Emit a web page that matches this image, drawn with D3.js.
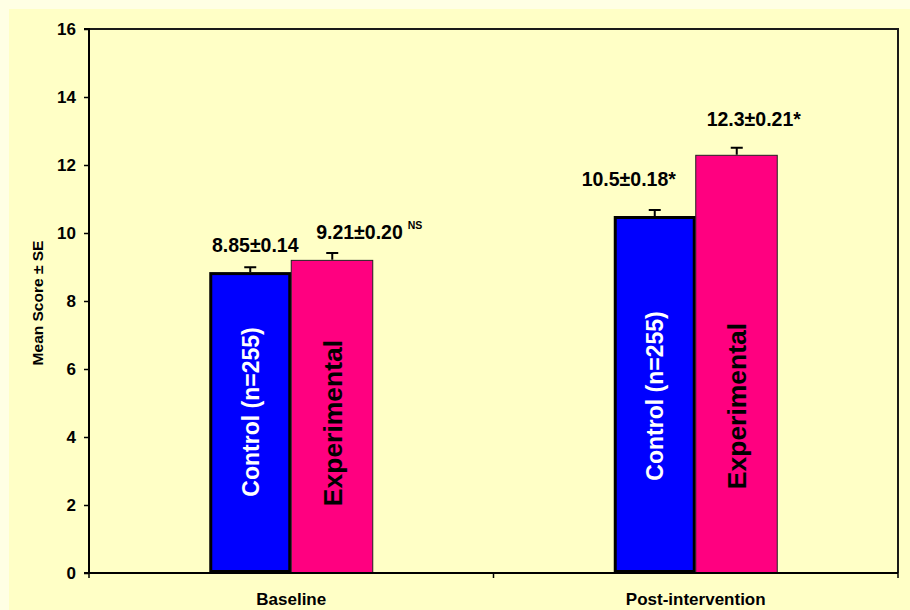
<!DOCTYPE html>
<html>
<head>
<meta charset="utf-8">
<script src="https://cdn.jsdelivr.net/npm/d3@7"></script>
<style>
  html, body { margin: 0; padding: 0; background: #FFFFE4; }
  svg { display: block; }
  text { font-family: "Liberation Sans", Arial, sans-serif; font-weight: bold; }
</style>
</head>
<body>
<svg id="chart" width="910" height="610"></svg>
<script>
// Mean knowledge scores (± SE) for the two study groups at two time points
const categories = ["Baseline", "Post-intervention"];
const groups = ["Control (n=255)", "Experimental"];
const controlMeans = [8.85, 10.5];
const controlSE = [0.14, 0.18];
const experimentalMeans = [9.21, 12.3];
const experimentalSE = [0.20, 0.21];
const valueLabels = [
  ["8.85\u00B10.14", "9.21\u00B10.20"],
  ["10.5\u00B10.18*", "12.3\u00B10.21*"]
];
const significance = [["", "NS"], ["", ""]];
const yTicks = [0, 2, 4, 6, 8, 10, 12, 14, 16];

// Layout (pixels)
const W = 910, H = 610;
const plot = { left: 89, top: 29, right: 898, bottom: 573 };
// horizontal shift and lift of each value label, per category and group
const labelShift = [[5, 37], [-26, 17]];
const labelLift = [[15, 14], [24, 22]];
// distance of the in-bar caption centre above the baseline
const captionMid = [[161, 150], [177, 167]];

const svg = d3.select("#chart");

// chart area
svg.append("rect").attr("x", 0).attr("y", 0).attr("width", W).attr("height", H).attr("fill", "#FFFFE4");
svg.append("rect").attr("x", 9).attr("y", 9).attr("width", W - 9).attr("height", H - 9).attr("fill", "#FFFFC6");

const y = d3.scaleLinear().domain([0, 16]).range([plot.bottom, plot.top]);
const x0 = d3.scaleBand().domain(categories).range([plot.left, plot.right]).paddingInner(0).paddingOuter(0);
const bw = x0.bandwidth();
const groupWidth = 164;
const x1 = d3.scaleBand().domain(groups).range([bw / 2 - groupWidth / 2, bw / 2 + groupWidth / 2]);

const rows = categories.map((c, i) => ({
  cat: c, i,
  bars: [
    { g: groups[0], k: 0, mean: controlMeans[i], se: controlSE[i] },
    { g: groups[1], k: 1, mean: experimentalMeans[i], se: experimentalSE[i] }
  ]
}));

// plot frame: top and right edges
svg.append("path")
  .attr("d", `M${plot.left},${plot.top}H${plot.right}V${plot.bottom}`)
  .attr("fill", "none").attr("stroke", "#1a1a1a").attr("stroke-width", 2);

const gCat = svg.selectAll("g.cat").data(rows).join("g")
  .attr("class", "cat")
  .attr("transform", d => `translate(${x0(d.cat)},0)`);

const gBar = gCat.selectAll("g.bar").data(d => d.bars.map(b => ({ ...b, i: d.i }))).join("g").attr("class", "bar");

// error bars (upper arm only)
gBar.append("path")
  .attr("d", d => {
    const cx = x1(d.g) + x1.bandwidth() / 2;
    const yt = y(d.mean + d.se);
    return `M${cx},${y(d.mean)}V${yt}M${cx - 6},${yt}H${cx + 6}`;
  })
  .attr("fill", "none").attr("stroke", "#000").attr("stroke-width", 2);

// bars
gBar.append("rect")
  .attr("x", d => x1(d.g) + (d.k === 0 ? 1.5 : 0))
  .attr("y", d => y(d.mean) + (d.k === 0 ? 1.5 : 0.5))
  .attr("width", d => x1.bandwidth() - (d.k === 0 ? 3 : 0.5))
  .attr("height", d => y(0) - y(d.mean) - (d.k === 0 ? 3 : 0.5))
  .attr("fill", d => d.k === 0 ? "#0000FF" : "#FF0080")
  .attr("stroke", d => d.k === 0 ? "#000" : "#222")
  .attr("stroke-width", d => d.k === 0 ? 3 : 1);

// captions inside bars
gBar.append("text")
  .attr("transform", d => {
    const cx = x1(d.g) + x1.bandwidth() / 2;
    const cy = y(0) - captionMid[d.i][d.k];
    return `translate(${cx},${cy}) rotate(-90)`;
  })
  .attr("text-anchor", "middle")
  .attr("dy", "0.36em")
  .attr("font-size", d => d.k === 0 ? 23 : 26.5)
  .attr("fill", d => d.k === 0 ? "#FFFFFF" : "#000000")
  .text(d => d.g === groups[0] ? "Control (n=255)" : "Experimental");

// value labels
const lab = gBar.append("text")
  .attr("x", d => x1(d.g) + x1.bandwidth() / 2 + labelShift[d.i][d.k])
  .attr("y", d => y(d.mean + d.se) - labelLift[d.i][d.k])
  .attr("text-anchor", "middle")
  .attr("font-size", 19.5)
  .attr("fill", "#000");
lab.append("tspan").text(d => valueLabels[d.i][d.k]);
lab.filter(d => significance[d.i][d.k] !== "")
  .append("tspan")
  .attr("dx", 5).attr("dy", -10)
  .attr("font-size", 10.5)
  .text(d => significance[d.i][d.k]);

// y axis
const yAxis = d3.axisLeft(y).tickValues(yTicks).tickSize(5).tickPadding(8).tickFormat(d3.format("d"));
const gy = svg.append("g").attr("transform", `translate(${plot.left},0)`).call(yAxis);
gy.select(".domain").attr("stroke", "#000").attr("stroke-width", 2).attr("d", `M-5,${plot.top}H0V${plot.bottom}H-5`);
gy.selectAll(".tick line").attr("stroke", "#000").attr("stroke-width", 1.5);
gy.selectAll(".tick text").attr("font-size", 17).attr("font-family", "'Liberation Sans', Arial, sans-serif").attr("font-weight", "bold").attr("fill", "#000");

// x axis
const gx = svg.append("g").attr("transform", `translate(0,${plot.bottom})`);
gx.append("line").attr("x1", plot.left).attr("x2", plot.right).attr("stroke", "#000").attr("stroke-width", 2);
const xTickPos = categories.map(c => x0(c)).concat([x0(categories[categories.length - 1]) + bw]);
gx.selectAll("line.tk").data(xTickPos).join("line").attr("class", "tk")
  .attr("x1", d => d).attr("x2", d => d).attr("y1", 0).attr("y2", 5)
  .attr("stroke", "#000").attr("stroke-width", 1.5);
gx.selectAll("text").data(categories).join("text")
  .attr("x", d => x0(d) + bw / 2)
  .attr("y", 32)
  .attr("text-anchor", "middle")
  .attr("font-size", 17)
  .attr("fill", "#000")
  .text(d => d);

// y axis title
svg.append("text")
  .attr("transform", `translate(43,${(plot.top + plot.bottom) / 2 + 2}) rotate(-90)`)
  .attr("text-anchor", "middle")
  .attr("font-size", 15.5)
  .attr("fill", "#000")
  .text("Mean Score \u00B1 SE");
</script>
</body>
</html>
